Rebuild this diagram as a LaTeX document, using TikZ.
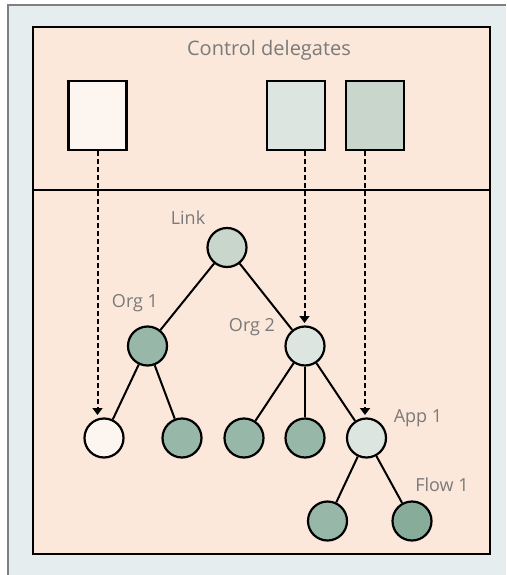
\documentclass[tikz,border=0pt]{standalone}
\usepackage{fontspec}
\setmainfont{Open Sans}
\usetikzlibrary{arrows.meta}
\definecolor{bgblue}{HTML}{E6EDEF}
\definecolor{peach}{HTML}{FBE8DA}
\definecolor{txtgray}{HTML}{7A7A7A}
\definecolor{cwhite}{HTML}{FDF5EF}
\definecolor{clight}{HTML}{DDE5E0}
\definecolor{cmid}{HTML}{C8D6CC}
\definecolor{cdark}{HTML}{97B8A8}
\definecolor{cdarker}{HTML}{88AC9A}
\begin{document}
\begin{tikzpicture}[x=1pt,y=-1pt,
  tnode/.style={circle,draw=black,line width=2.2pt,minimum size=39pt,inner sep=0pt},
  dbox/.style={draw=black,line width=2.5pt,minimum width=58pt,minimum height=69pt,inner sep=0pt},
  lbl/.style={text=txtgray,font=\fontsize{18}{20}\selectfont,inner sep=0pt},
  edge/.style={line width=2pt},
  deleg/.style={line width=2pt,dash pattern=on 5pt off 3pt,-{Triangle[width=10pt,length=7pt]}}]
\useasboundingbox (0,0) rectangle (506,575);
\fill[white] (0,0) rectangle (506,575);
\fill[bgblue] (8,5) rectangle (506,575);
\draw[gray,line width=1.5pt] (8,575) -- (8,5) -- (506,5);
\draw[fill=peach,line width=2.5pt] (33,27) rectangle (490,554);
\draw[line width=2.5pt] (33,190) -- (490,190);
\node[lbl,font=\fontsize{20}{22}\selectfont] (title) at (269,50) {Control delegates};
\node[dbox,fill=cwhite] (b1) at (97.5,115.5) {};
\node[dbox,fill=clight] (b2) at (296,115.5) {};
\node[dbox,fill=cmid] (b3) at (375,115.5) {};
\node[tnode,fill=cmid] (link) at (227,247.5) {};
\node[tnode,fill=cdark] (org1) at (147.5,346) {};
\node[tnode,fill=clight] (org2) at (305,346) {};
\node[tnode,fill=cwhite] (l1) at (104,438) {};
\node[tnode,fill=cdark] (l2) at (182,438) {};
\node[tnode,fill=cdark] (l3) at (244,438) {};
\node[tnode,fill=cdark] (l4) at (305,438) {};
\node[tnode,fill=clight] (app1) at (366.5,438) {};
\node[tnode,fill=cdark] (f1) at (327.5,521) {};
\node[tnode,fill=cdarker] (f2) at (412,521) {};
\node[lbl] (tlink) at (188,218) {Link};
\node[lbl] (torg1) at (135,303) {Org 1};
\node[lbl] (torg2) at (252,327) {Org 2};
\node[lbl] (tapp1) at (418,418) {App 1};
\node[lbl] (tflow1) at (442,485) {Flow 1};
\draw[edge] (link) -- (org1);
\draw[edge] (link) -- (org2);
\draw[edge] (org1) -- (l1);
\draw[edge] (org1) -- (l2);
\draw[edge] (org2) -- (l3);
\draw[edge] (org2) -- (l4);
\draw[edge] (org2) -- (app1);
\draw[edge] (app1) -- (f1);
\draw[edge] (app1) -- (f2);
\coordinate (e1) at (97.5,415);
\coordinate (e2) at (304.5,323);
\coordinate (e3) at (365,415);
\draw[deleg] (b1.south) -- (e1);
\draw[deleg] (b2.south -| e2) -- (e2);
\draw[deleg] (b3.south -| e3) -- (e3);
\end{tikzpicture}
\end{document}
